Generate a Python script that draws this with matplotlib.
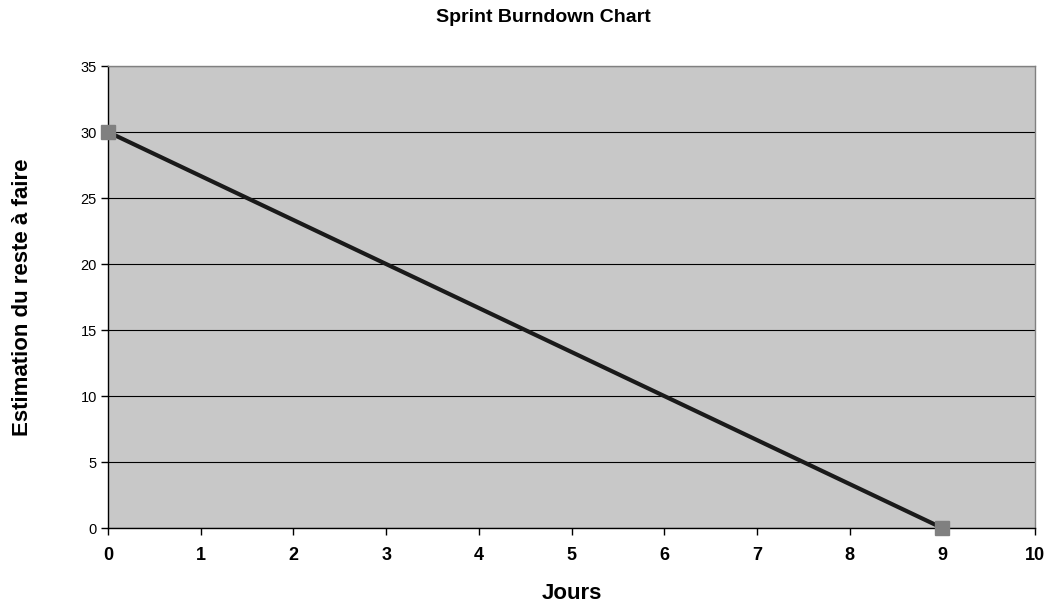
import matplotlib
matplotlib.use('Agg')
import matplotlib.pyplot as plt

plt.rcParams['font.family'] = ['Liberation Sans', 'DejaVu Sans']

# Burndown: reste à faire au début et à la fin du sprint
jours = [0, 9]
reste = [30, 0]
x_ticks = list(range(0, 11))
y_ticks = list(range(0, 36, 5))

fig = plt.figure(figsize=(10.5, 6.04), dpi=100)
ax = fig.add_axes([0.1029, 0.1258, 0.9857 - 0.1029, 0.8907 - 0.1258])
ax.set_facecolor('#c8c8c8')

ax.plot(jours, reste, color='#1a1a1a', linewidth=3, zorder=3,
        marker='s', markersize=10, markerfacecolor='#808080',
        markeredgecolor='#808080', clip_on=False)

ax.set_xlim(0, 10)
ax.set_ylim(0, 35)
ax.set_xticks(x_ticks)
ax.set_yticks(y_ticks)
ax.set_xticklabels([str(v) for v in x_ticks], fontsize=13, fontweight='bold')
ax.set_yticklabels([str(v) for v in y_ticks], fontsize=10.5)
ax.tick_params(axis='both', direction='out', length=5, width=1, color='black')
ax.tick_params(axis='x', pad=9)
ax.tick_params(axis='y', pad=3)

ax.yaxis.grid(True, color='black', linewidth=0.8)
ax.set_axisbelow(True)

for side in ['top', 'right']:
    ax.spines[side].set_color('#808080')
    ax.spines[side].set_linewidth(1)
for side in ['left', 'bottom']:
    ax.spines[side].set_color('black')
    ax.spines[side].set_linewidth(1)

ax.set_title('Sprint Burndown Chart', fontsize=14, fontweight='bold', pad=32, x=0.47)
ax.set_xlabel('Jours', fontsize=16, fontweight='bold', labelpad=13)
ax.set_ylabel('Estimation du reste à faire', fontsize=16, fontweight='bold', labelpad=34)

fig.savefig('out.png', dpi=100)
